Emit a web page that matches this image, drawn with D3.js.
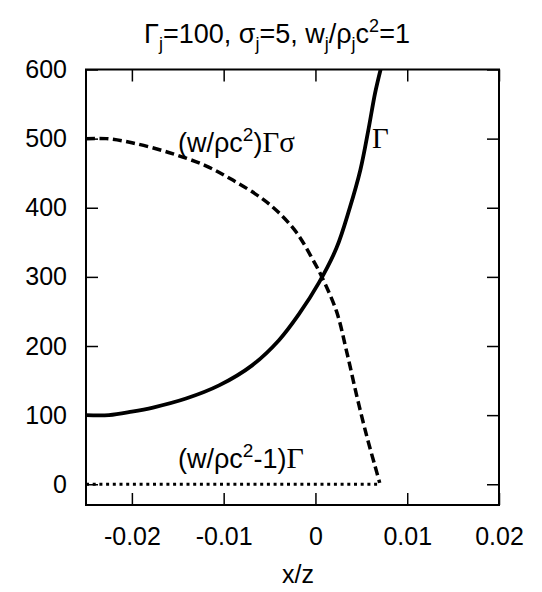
<html>
  <head>
    <script src="https://d3js.org/d3.v7.min.js"></script>
    <style>
      body { margin: 0; background: #fff; }
      text { font-family: "Liberation Sans", Arial, sans-serif; fill: #000; }
      .serif { font-family: "Liberation Serif", "Times New Roman", serif; }
    </style>
  </head>
  <body>
    <svg width="542" height="592"></svg>
    <script>
      // curve values
      var gammaX = [-0.025, -0.0225, -0.0200, -0.0177, -0.0141, -0.0105, -0.0069, -0.0040, -0.0018, 0.0004, 0.0023, 0.0037, 0.0049, 0.0058, 0.0065, 0.0071];
      var gammaY = [100, 100, 105, 111, 124, 143, 172, 208, 246, 292, 342, 398, 455, 515, 566, 600];

      var sigmaX = [-0.025, -0.0228, -0.0200, -0.0160, -0.0120, -0.0090, -0.0060, -0.0040, -0.0020, 0.0000, 0.0007, 0.0023, 0.0034, 0.0045, 0.0056, 0.0065, 0.0070];
      var sigmaY = [500, 500, 494, 480, 461, 440, 415, 393, 363, 318, 300, 250, 192, 128, 69, 26, 2];

      var dotX = [-0.025, 0.0069];
      var dotY = [0, 0];

      var xTicks = [-0.02, -0.01, 0, 0.01, 0.02];
      var yTicks = [0, 100, 200, 300, 400, 500, 600];

      var svg = d3.select("svg");
      var mLeft = 86, mRight = 499, mTop = 69.5, mBottom = 505;

      var x = d3.scaleLinear().domain([-0.025, 0.02]).range([mLeft, mRight]);
      var y = d3.scaleLinear().domain([-30, 600]).range([mBottom, mTop]);

      // plain hyphen for negatives, like the original
      var fmt = function(d) { return d === 0 ? "0" : (d < 0 ? "-" : "") + Math.abs(d).toFixed(2); };

      // axes, ticks pointing inward
      var xb = svg.append("g").attr("transform", "translate(0," + mBottom + ")")
        .call(d3.axisBottom(x).tickValues(xTicks).tickSize(-12).tickPadding(22).tickFormat(fmt));
      var xt = svg.append("g").attr("transform", "translate(0," + mTop + ")")
        .call(d3.axisTop(x).tickValues(xTicks).tickSize(-12).tickFormat(""));
      var yl = svg.append("g").attr("transform", "translate(" + mLeft + ",0)")
        .call(d3.axisLeft(y).tickValues(yTicks).tickSize(-12).tickPadding(19));
      var yr = svg.append("g").attr("transform", "translate(" + mRight + ",0)")
        .call(d3.axisRight(y).tickValues(yTicks).tickSize(-12).tickFormat(""));

      [xb, xt, yl, yr].forEach(function(g) {
        g.select(".domain").remove();
        g.selectAll("line").attr("stroke", "#000").attr("stroke-width", 1.5);
        g.selectAll("text").attr("font-size", "25px")
          .attr("font-family", "Liberation Sans, Arial, sans-serif").attr("fill", "#000");
      });

      svg.append("defs").append("clipPath").attr("id", "clip")
        .append("rect").attr("x", mLeft).attr("y", mTop)
        .attr("width", mRight - mLeft).attr("height", mBottom - mTop);

      var line = d3.line()
        .x(function(d) { return x(d[0]); })
        .y(function(d) { return y(d[1]); })
        .curve(d3.curveCatmullRom.alpha(0.5));

      var plot = svg.append("g").attr("clip-path", "url(#clip)");

      plot.append("path")
        .datum(d3.zip(dotX, dotY))
        .attr("d", line)
        .attr("fill", "none").attr("stroke", "#000")
        .attr("stroke-width", 3).attr("stroke-dasharray", "3,3.7");

      plot.append("path")
        .datum(d3.zip(sigmaX, sigmaY))
        .attr("d", line)
        .attr("fill", "none").attr("stroke", "#000")
        .attr("stroke-width", 3.5).attr("stroke-dasharray", "9,4.5");

      plot.append("path")
        .datum(d3.zip(gammaX, gammaY))
        .attr("d", line)
        .attr("fill", "none").attr("stroke", "#000")
        .attr("stroke-width", 3.8).attr("stroke-linejoin", "round");

      // frame
      svg.append("rect")
        .attr("x", mLeft).attr("y", mTop)
        .attr("width", mRight - mLeft).attr("height", mBottom - mTop)
        .attr("fill", "none").attr("stroke", "#000").attr("stroke-width", 2);

      // title
      var title = svg.append("text").attr("x", 277).attr("y", 43)
        .attr("text-anchor", "middle").attr("font-size", "27px");
      title.append("tspan").text("Γ");
      title.append("tspan").attr("font-size", "18px").attr("dy", 7).text("j");
      title.append("tspan").attr("dy", -7).text("=100, σ");
      title.append("tspan").attr("font-size", "18px").attr("dy", 7).text("j");
      title.append("tspan").attr("dy", -7).text("=5, w");
      title.append("tspan").attr("font-size", "18px").attr("dy", 7).text("j");
      title.append("tspan").attr("dy", -7).text("/ρ");
      title.append("tspan").attr("font-size", "18px").attr("dy", 7).text("j");
      title.append("tspan").attr("dy", -7).text("c");
      title.append("tspan").attr("font-size", "18px").attr("dy", -11).text("2");
      title.append("tspan").attr("dy", 11).text("=1");

      // x axis label
      svg.append("text").attr("x", 298).attr("y", 583)
        .attr("text-anchor", "middle").attr("font-size", "25px").text("x/z");

      // curve labels
      var l1 = svg.append("text").attr("x", 178).attr("y", 152).attr("font-size", "27px");
      l1.append("tspan").text("(w/ρc");
      l1.append("tspan").attr("font-size", "19px").attr("dy", -11).text("2");
      l1.append("tspan").attr("dy", 11).text(")");
      l1.append("tspan").attr("class", "serif").attr("font-size", "29px").text("Γσ");

      var l2 = svg.append("text").attr("x", 178).attr("y", 468).attr("font-size", "27px");
      l2.append("tspan").text("(w/ρc");
      l2.append("tspan").attr("font-size", "19px").attr("dy", -11).text("2");
      l2.append("tspan").attr("dy", 11).text("-1)");
      l2.append("tspan").attr("class", "serif").attr("font-size", "30px").text("Γ");

      svg.append("text").attr("class", "serif").attr("x", 372).attr("y", 148)
        .attr("font-size", "29px").text("Γ");
    </script>
  </body>
</html>
